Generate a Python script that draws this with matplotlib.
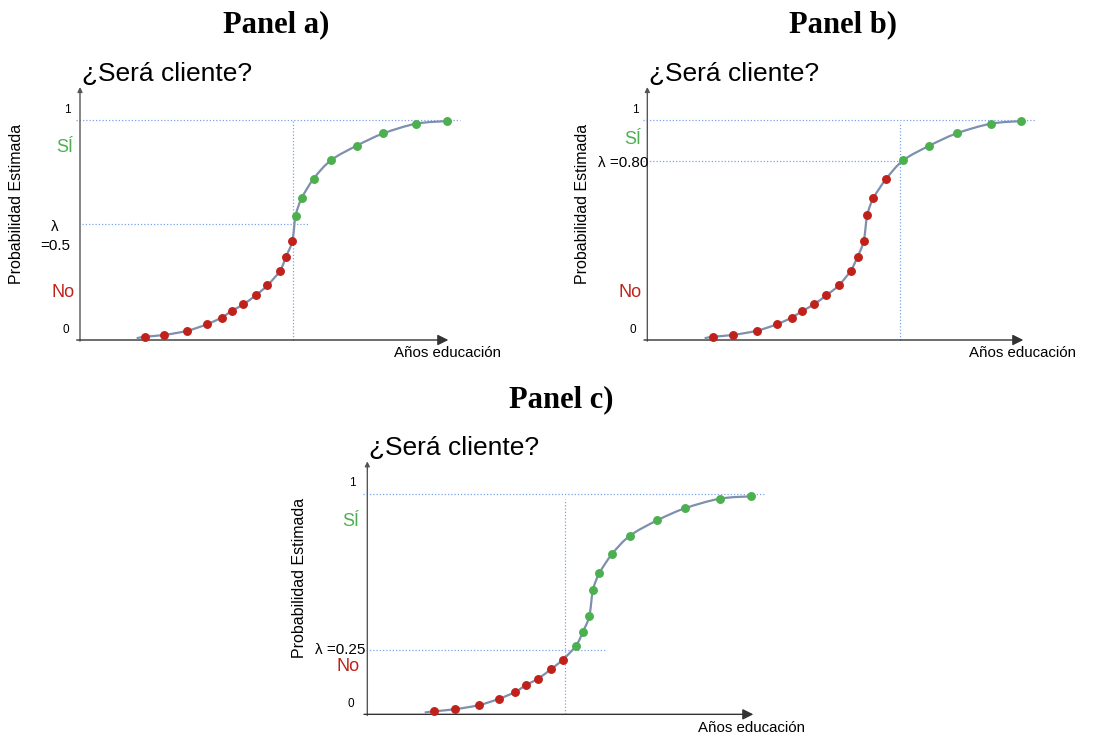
import numpy as np
import matplotlib
matplotlib.use('Agg')
import matplotlib.pyplot as plt
from matplotlib.path import Path
from matplotlib.patches import PathPatch

plt.rcParams['font.family'] = ['Liberation Sans', 'DejaVu Sans']

# ---- datos (x en unidades arbitrarias, p = probabilidad) ----
# Panel a)
xa_no = [1.95, 2.53, 3.22, 3.80, 4.25, 4.55, 4.90, 5.27, 5.62, 6.00, 6.18, 6.37]
pa_no = [0.015, 0.023, 0.042, 0.071, 0.102, 0.132, 0.162, 0.203, 0.248, 0.315, 0.379, 0.450]
xa_si = [6.47, 6.65, 7.01, 7.53, 8.30, 9.10, 10.08, 11.00]
pa_si = [0.565, 0.644, 0.733, 0.817, 0.883, 0.939, 0.983, 0.995]
lam_a = 0.526
corte_a = 6.38

# Panel b)
xb_no = [1.98, 2.57, 3.28, 3.88, 4.33, 4.65, 5.00, 5.37, 5.74, 6.10, 6.31, 6.49, 6.60, 6.78, 7.17]
pb_no = [0.015, 0.023, 0.042, 0.071, 0.102, 0.132, 0.162, 0.203, 0.248, 0.315, 0.379, 0.450, 0.568, 0.644, 0.733]
xb_si = [7.68, 8.46, 9.28, 10.30, 11.21]
pb_si = [0.817, 0.883, 0.939, 0.983, 0.995]
lam_b = 0.814
corte_b = 7.58

# Panel c)
xc_no = [2.01, 2.62, 3.35, 3.96, 4.44, 4.75, 5.12, 5.51, 5.87]
pc_no = [0.014, 0.023, 0.042, 0.071, 0.102, 0.132, 0.162, 0.205, 0.249]
xc_si = [6.26, 6.47, 6.66, 6.77, 6.96, 7.35, 7.88, 8.70, 9.52, 10.57, 11.51]
pc_si = [0.312, 0.376, 0.447, 0.565, 0.641, 0.730, 0.812, 0.882, 0.936, 0.980, 0.991]
lam_c = 0.291
corte_c = 5.93

# inicio de la curva (antes del primer punto)
inicio = [(1.70, 0.008), (1.72, 0.008), (1.72, 0.008)]

ROJO = '#c0221b'
VERDE = '#4cb04f'
CURVA = '#7f8fae'
PUNTEADA = '#7aa2ea'
EJE = '#555555'

W, H = 1099, 736
fig = plt.figure(figsize=(W / 100, H / 100), dpi=100)

XL = (-0.5, 12.5)
YL = (-0.1, 1.15)
SX = 100 / 3      # px por unidad x
SY = 220          # px por unidad p
PUNTOS = dict(ls=(0, (1, 1.6)), color=PUNTEADA, lw=0.9)


def curva_suave(xs, ps):
    # Catmull-Rom -> Bezier cubico, para que la curva pase suave por los puntos
    pts = np.column_stack([xs, ps])
    pts_ext = np.vstack([pts[0], pts, pts[-1]])
    verts = [pts[0]]
    codes = [Path.MOVETO]
    for i in range(1, len(pts_ext) - 2):
        p0, p1, p2, p3 = pts_ext[i - 1], pts_ext[i], pts_ext[i + 1], pts_ext[i + 2]
        verts += [p1 + (p2 - p0) / 6, p2 - (p3 - p1) / 6, p2]
        codes += [Path.CURVE4] * 3
    return Path(verts, codes)


def panel(ox, oy, x_no, p_no, x_si, p_si, ini, lam, corte, lam_txt,
          arrow_end, uno_end, vtop, lam_x0, lam_x1, pos):
    left = ox + XL[0] * SX
    top = oy - YL[1] * SY
    w = (XL[1] - XL[0]) * SX
    h = (YL[1] - YL[0]) * SY
    ax = fig.add_axes([left / W, 1 - (top + h) / H, w / W, h / H])
    ax.set_xlim(XL)
    ax.set_ylim(YL)
    ax.axis('off')

    # lineas punteadas
    ax.plot([-0.12, uno_end], [1, 1], **PUNTOS)
    ax.plot([lam_x0, lam_x1], [lam, lam], **PUNTOS)
    ax.plot([corte, corte], [0, vtop], **PUNTOS)

    # ejes con flecha
    ax.annotate('', xy=(0, 1.15), xytext=(0, -0.005),
                arrowprops=dict(arrowstyle='-|>', color=EJE, lw=1.0,
                                mutation_scale=7, shrinkA=0, shrinkB=0))
    ax.annotate('', xy=(arrow_end, 0), xytext=(-0.1, 0),
                arrowprops=dict(arrowstyle='-|>', color='#333333', lw=1.0,
                                mutation_scale=16, shrinkA=0, shrinkB=0))

    # curva y puntos
    xs = [ini[0]] + x_no + x_si
    ps = [ini[1]] + p_no + p_si
    ax.add_patch(PathPatch(curva_suave(xs, ps), fill=False, edgecolor=CURVA,
                           lw=1.6, zorder=3))
    ax.plot(x_no, p_no, 'o', color=ROJO, ms=5.4, zorder=4)
    ax.plot(x_si, p_si, 'o', color=VERDE, ms=5.4, zorder=4)

    # textos
    ax.text(0.05, 1.21, '¿Será cliente?', fontsize=19, va='center', ha='left')
    ax.text(pos['ylab'][0], pos['ylab'][1], 'Probabilidad Estimada', rotation=90,
            fontsize=11.5, va='center', ha='center')
    ax.text(pos['xlab'], -0.06, 'Años educación', fontsize=10.8,
            va='center', ha='center')
    ax.text(pos['uno'][0], pos['uno'][1], '1', fontsize=8.5, va='center', ha='center')
    ax.text(pos['cero'][0], pos['cero'][1], '0', fontsize=8.5, va='center', ha='center')
    ax.text(pos['si'][0], pos['si'][1], 'SÍ', fontsize=13, color=VERDE,
            va='center', ha='center')
    ax.text(pos['no'][0], pos['no'][1], 'No', fontsize=13, color=ROJO,
            va='center', ha='center')
    ax.text(pos['lam'][0], pos['lam'][1], lam_txt, fontsize=11,
            va='center', ha=pos['lam_ha'], linespacing=1.5)
    return ax


panel(80, 340, xa_no, pa_no, xa_si, pa_si, inicio[0], lam_a, corte_a,
      'λ\n=0.5', 11.05, 11.4, 1.0, 0.05, 6.85,
      dict(ylab=(-1.89, 0.62), xlab=11.03, uno=(-0.39, 1.045), cero=(-0.42, 0.045),
           si=(-0.45, 0.877), no=(-0.5, 0.218), lam=(-0.75, 0.47), lam_ha='center'))

panel(647.33, 340, xb_no, pb_no, xb_si, pb_si, inicio[1], lam_b, corte_b,
      'λ =0.80', 11.28, 11.63, 0.99, -0.12, 7.58,
      dict(ylab=(-1.93, 0.62), xlab=11.26, uno=(-0.37, 1.045), cero=(-0.43, 0.045),
           si=(-0.43, 0.91), no=(-0.52, 0.218), lam=(0.02, 0.805), lam_ha='right'))

panel(367.33, 714.33, xc_no, pc_no, xc_si, pc_si, inicio[2], lam_c, corte_c,
      'λ =0.25', 11.58, 11.93, 0.98, -0.12, 7.13,
      dict(ylab=(-2.02, 0.62), xlab=11.54, uno=(-0.44, 1.05), cero=(-0.49, 0.047),
           si=(-0.49, 0.876), no=(-0.57, 0.217), lam=(-0.05, 0.292), lam_ha='right'))

# titulos de panel
tit = dict(fontsize=22, fontweight='bold', family='Liberation Serif',
           ha='center', va='center')
fig.text(276 / W, 1 - 25 / H, 'Panel a)', **tit)
fig.text(843 / W, 1 - 25 / H, 'Panel b)', **tit)
fig.text(561 / W, 1 - 400 / H, 'Panel c)', **tit)

fig.savefig('out.png', dpi=100, facecolor='white')
